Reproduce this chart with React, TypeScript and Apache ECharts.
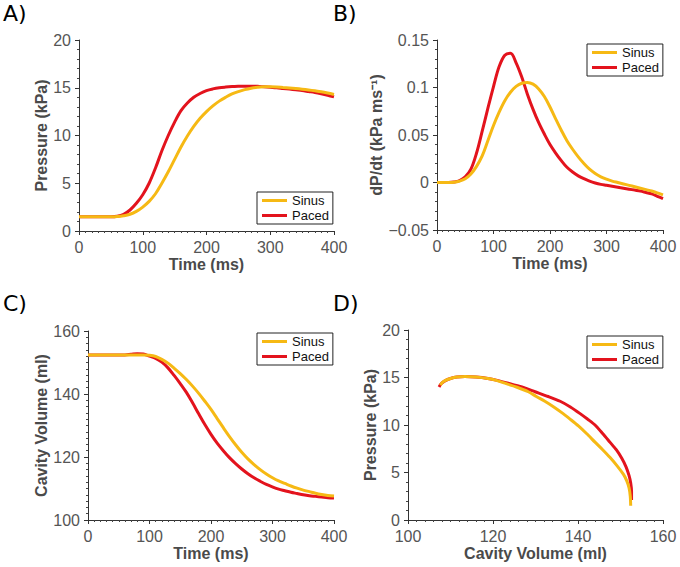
import React, { useEffect, useRef } from "react";
import * as echarts from "echarts";

// ---------- data ----------
const timeMs = [0, 10, 20, 30, 40, 50, 60, 70, 80, 90, 100, 110, 120, 130, 140, 150, 160, 170, 180, 190, 200,
  210, 220, 230, 240, 250, 260, 270, 280, 290, 300, 310, 320, 330, 340, 350, 360, 370, 380, 390, 400];

// A) Pressure (kPa)
const pressureSinus = [1.5, 1.5, 1.5, 1.5, 1.5, 1.5, 1.52, 1.6, 1.75, 2.05, 2.5, 3.1, 3.9, 5.0, 6.2, 7.5, 8.8, 9.95, 10.95, 11.8, 12.5,
  13.1, 13.6, 14.0, 14.35, 14.6, 14.8, 14.95, 15.05, 15.1, 15.1, 15.08, 15.03, 14.98, 14.92, 14.85, 14.77, 14.68, 14.58, 14.45, 14.3];
const pressurePaced = [1.5, 1.5, 1.5, 1.5, 1.5, 1.5, 1.55, 1.75, 2.2, 2.9, 3.8, 5.0, 6.6, 8.4, 10.0, 11.4, 12.6, 13.4, 14.0, 14.4, 14.7,
  14.88, 15.0, 15.07, 15.12, 15.15, 15.17, 15.17, 15.15, 15.1, 15.05, 15.0, 14.93, 14.86, 14.78, 14.7, 14.6, 14.5, 14.37, 14.22, 14.05];

// B) dP/dt (kPa ms^-1)
const dpdtSinus = [0, 0, 0, 0.0003, 0.0015, 0.004, 0.009, 0.017, 0.028, 0.044, 0.06, 0.074, 0.086, 0.095, 0.1012, 0.1045, 0.1053, 0.1035, 0.0985, 0.0905, 0.0795,
  0.067, 0.055, 0.044, 0.035, 0.027, 0.02, 0.014, 0.0095, 0.006, 0.0035, 0.0015, 0, -0.0015, -0.003, -0.0045, -0.006, -0.0075, -0.009, -0.011, -0.013];
const dpdtPaced = [0, 0, 0, 0.0005, 0.002, 0.006, 0.014, 0.031, 0.054, 0.078, 0.101, 0.122, 0.134, 0.136, 0.126, 0.111, 0.093, 0.077, 0.063, 0.051, 0.04,
  0.031, 0.023, 0.016, 0.011, 0.007, 0.004, 0.0015, -0.0005, -0.002, -0.003, -0.004, -0.005, -0.006, -0.007, -0.008, -0.009, -0.0105, -0.012, -0.0145, -0.017];

// C) Cavity volume (ml)
const volumeSinus = [152.4, 152.4, 152.4, 152.4, 152.4, 152.4, 152.4, 152.4, 152.4, 152.4, 152.3, 151.9, 151.0, 149.8, 148.2, 146.5, 144.6, 142.5, 140.2, 137.7, 135.1,
  132.2, 129.3, 126.5, 123.9, 121.5, 119.4, 117.6, 116.0, 114.6, 113.4, 112.4, 111.6, 110.8, 110.1, 109.5, 109.0, 108.5, 108.1, 107.8, 107.6];
const volumePaced = [152.4, 152.4, 152.4, 152.4, 152.4, 152.4, 152.4, 152.6, 152.8, 152.7, 152.0, 151.3, 150.1, 148.3, 145.9, 143.3, 140.5, 137.2, 133.7, 130.3, 127.2,
  124.4, 122.0, 119.8, 117.9, 116.2, 114.7, 113.4, 112.3, 111.3, 110.5, 109.8, 109.3, 108.8, 108.4, 108.0, 107.7, 107.5, 107.3, 107.1, 107.0];

// D) Pressure-volume loop (volume ml, pressure kPa)
const loopVolumeSinus = [152.4, 152.3, 152.0, 151.5, 150.7, 149.2, 147.5, 145.8, 144.0, 142.0, 140.1, 138.2, 136.5, 134.3, 132.2, 130.2, 128.3, 125.5,
  122.8, 120.8, 118.8, 116.0, 113.4, 111.5, 110.0, 108.8, 108.0, 107.6];
const loopPressureSinus = [1.5, 2.5, 3.4, 4.1, 4.8, 5.7, 6.6, 7.4, 8.2, 9.1, 9.9, 10.6, 11.2, 11.9, 12.5, 13.0, 13.5, 14.0,
  14.4, 14.7, 14.9, 15.05, 15.1, 15.05, 14.9, 14.7, 14.45, 14.2];
const loopVolumePaced = [152.6, 152.6, 152.4, 152.0, 151.3, 150.3, 149.0, 147.5, 145.8, 144.0, 142.3, 140.5, 138.2, 135.8, 133.0, 129.9, 126.8, 123.6,
  121.0, 118.8, 116.0, 113.4, 111.5, 110.0, 108.7, 107.8, 107.3];
const loopPressurePaced = [2.1, 3.0, 3.9, 4.7, 5.6, 6.5, 7.4, 8.2, 9.1, 10.0, 10.6, 11.2, 11.9, 12.5, 13.0, 13.5, 14.0, 14.4,
  14.7, 14.9, 15.05, 15.1, 15.05, 14.9, 14.65, 14.35, 14.0];

const seriesNames = ["Sinus", "Paced"];
const panelLabels = ["A)", "B)", "C)", "D)"];

// ---------- styles ----------
const SINUS = "#F6B914";
const PACED = "#E3131D";
const FONT = "Liberation Sans";

const pair = (xs: number[], ys: number[]) => xs.map((x, i) => [x, ys[i]]);

function axisBase(extra: any) {
  return {
    type: "value",
    nameLocation: "middle",
    axisLine: { show: true, onZero: false, lineStyle: { color: "#333", width: 1 } },
    axisTick: { show: true, length: 4, lineStyle: { color: "#333" } },
    minorTick: { show: true, splitNumber: 10, length: 2, lineStyle: { color: "#444" } },
    splitLine: { show: false },
    axisLabel: { color: "#555", fontSize: 16, fontFamily: FONT, margin: 8 },
    nameTextStyle: { color: "#4a4a4a", fontSize: 16, fontWeight: "bold", fontFamily: FONT },
    ...extra,
  };
}

function legendAt(left: number, top: number) {
  return {
    data: seriesNames,
    orient: "vertical",
    left,
    top,
    icon: "rect",
    itemWidth: 25,
    itemHeight: 3,
    itemGap: 2,
    padding: [2, 4, 2, 5],
    borderColor: "#222",
    borderWidth: 1,
    backgroundColor: "#fff",
    textStyle: { fontSize: 13, fontFamily: FONT, color: "#111" },
  };
}

function lineSeries(name: string, color: string, idx: number, data: number[][], loop = false) {
  return {
    type: "line",
    name,
    xAxisIndex: idx,
    yAxisIndex: idx,
    data,
    showSymbol: false,
    smooth: loop ? 0.25 : 0.35,
    color,
    lineStyle: { color, width: 3 },
    itemStyle: { color },
    z: name === "Sinus" ? 3 : 2,
  };
}

export default function App() {
  const ref = useRef<HTMLDivElement>(null);
  useEffect(() => {
    if (!ref.current) return;
    const chart = echarts.init(ref.current, undefined, { renderer: "svg" });
    const option: any = {
      animation: false,
      backgroundColor: "#fff",
      graphic: [
        { type: "text", left: 3, top: 2, style: { text: panelLabels[0], font: "22px 'DejaVu Sans'", fill: "#000" } },
        { type: "text", left: 333, top: 2, style: { text: panelLabels[1], font: "22px 'DejaVu Sans'", fill: "#000" } },
        { type: "text", left: 3, top: 292, style: { text: panelLabels[2], font: "22px 'DejaVu Sans'", fill: "#000" } },
        { type: "text", left: 333, top: 292, style: { text: panelLabels[3], font: "22px 'DejaVu Sans'", fill: "#000" } },
      ],
      grid: [
        { left: 79, top: 40, width: 255, height: 191 },
        { left: 437, top: 40, width: 226, height: 190 },
        { left: 88, top: 331, width: 246, height: 189 },
        { left: 408, top: 330, width: 255, height: 190 },
      ],
      xAxis: [
        axisBase({ gridIndex: 0, min: 0, max: 400, interval: 100, name: "Time (ms)", nameGap: 25 }),
        axisBase({ gridIndex: 1, min: 0, max: 400, interval: 100, name: "Time (ms)", nameGap: 25 }),
        axisBase({ gridIndex: 2, min: 0, max: 400, interval: 100, name: "Time (ms)", nameGap: 25 }),
        axisBase({ gridIndex: 3, min: 100, max: 160, interval: 20, name: "Cavity Volume (ml)", nameGap: 25 }),
      ],
      yAxis: [
        axisBase({ gridIndex: 0, min: 0, max: 20, interval: 5, name: "Pressure (kPa)", nameGap: 29,
          minorTick: { show: true, splitNumber: 5, length: 2, lineStyle: { color: "#444" } } }),
        axisBase({ gridIndex: 1, min: -0.05, max: 0.15, interval: 0.05, name: "dP/dt (kPa ms\u207B\u00B9)", nameGap: 52,
          minorTick: { show: true, splitNumber: 5, length: 2, lineStyle: { color: "#444" } },
          axisLabel: { color: "#555", fontSize: 16, fontFamily: FONT, margin: 8,
            formatter: (v: number) => {
              const r = Math.round(v * 100) / 100;
              return r < 0 ? "\u2212" + String(-r) : String(r);
            } } }),
        axisBase({ gridIndex: 2, min: 100, max: 160, interval: 20, name: "Cavity Volume (ml)", nameGap: 38 }),
        axisBase({ gridIndex: 3, min: 0, max: 20, interval: 5, name: "Pressure (kPa)", nameGap: 28,
          minorTick: { show: true, splitNumber: 5, length: 2, lineStyle: { color: "#444" } } }),
      ],
      legend: [
        legendAt(257, 192),
        legendAt(587, 44),
        legendAt(257, 333),
        legendAt(587, 336),
      ],
      series: [
        lineSeries("Paced", PACED, 0, pair(timeMs, pressurePaced)),
        lineSeries("Sinus", SINUS, 0, pair(timeMs, pressureSinus)),
        lineSeries("Paced", PACED, 1, pair(timeMs, dpdtPaced)),
        lineSeries("Sinus", SINUS, 1, pair(timeMs, dpdtSinus)),
        lineSeries("Paced", PACED, 2, pair(timeMs, volumePaced)),
        lineSeries("Sinus", SINUS, 2, pair(timeMs, volumeSinus)),
        lineSeries("Paced", PACED, 3, pair(loopVolumePaced, loopPressurePaced), true),
        lineSeries("Sinus", SINUS, 3, pair(loopVolumeSinus, loopPressureSinus), true),
      ],
    };
    chart.setOption(option);
    return () => chart.dispose();
  }, []);
  return (
    <div
      ref={ref}
      style={{ position: "fixed", left: 0, top: 0, width: 680, height: 567, background: "#fff" }}
    />
  );
}
